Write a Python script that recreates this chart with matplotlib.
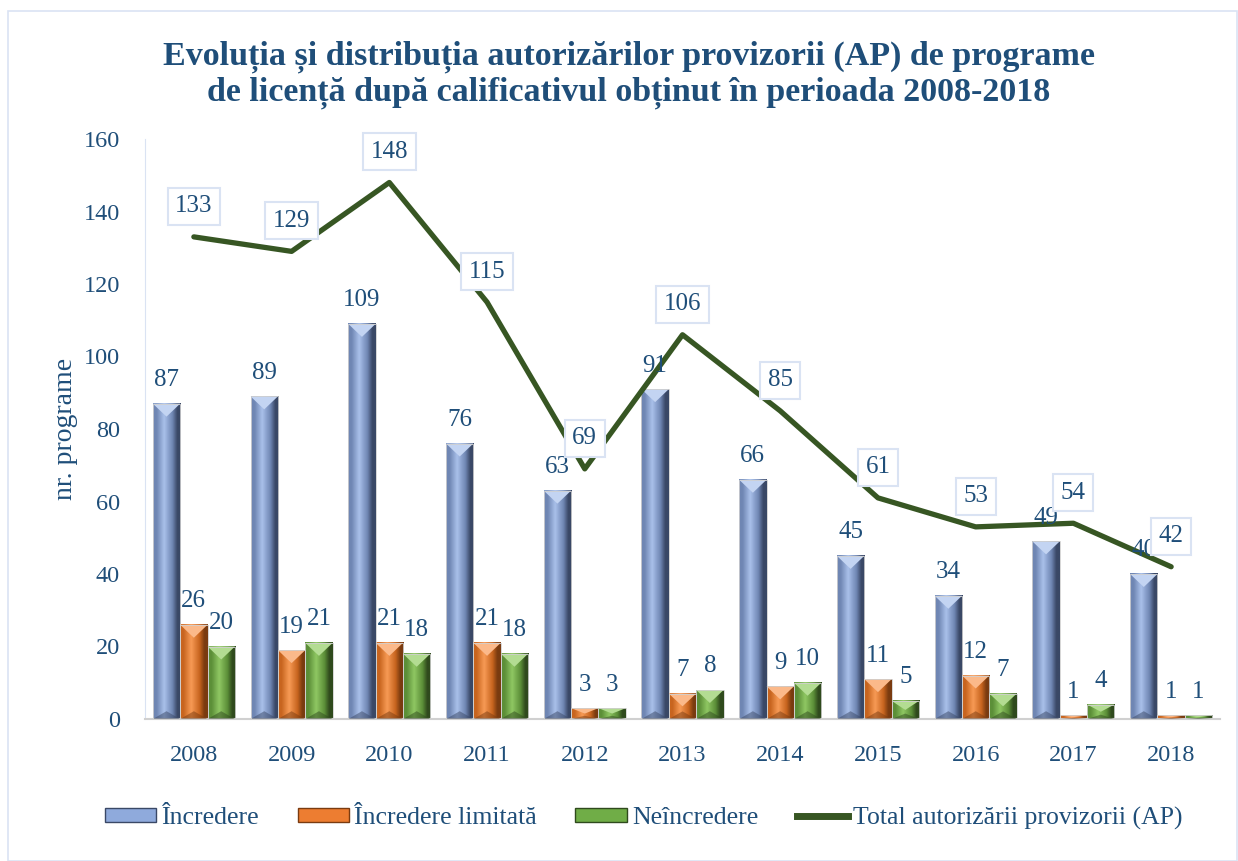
import numpy as np
import matplotlib.pyplot as plt
from matplotlib.patches import Polygon, Patch, Rectangle
from matplotlib.lines import Line2D
from matplotlib.colors import LinearSegmentedColormap

years = ['2008', '2009', '2010', '2011', '2012', '2013', '2014', '2015', '2016', '2017', '2018']
incredere = [87, 89, 109, 76, 63, 91, 66, 45, 34, 49, 40]
incredere_limitata = [26, 19, 21, 21, 3, 7, 9, 11, 12, 1, 1]
neincredere = [20, 21, 18, 18, 3, 8, 10, 5, 7, 4, 1]
total = [133, 129, 148, 115, 69, 106, 85, 61, 53, 54, 42]

series_names = ['Încredere', 'Încredere limitată', 'Neîncredere']
line_name = 'Total autorizării provizorii (AP)'

# (edge dark, mid, light, base) for the bevelled bars
palettes = [
    ('#3a4866', '#6f86b3', '#a9c0ea', '#8faadc'),
    ('#7a3b10', '#c8651f', '#f79a55', '#ed7d31'),
    ('#2f4a1d', '#5c8f38', '#8fc763', '#70ad47'),
]
tops = ['#c3d4f2', '#fbb98a', '#b3dc92']
text_color = '#1f4e79'
line_color = '#375623'
font = 'Liberation Serif'

plt.rcParams['font.family'] = [font, 'DejaVu Serif']

fig = plt.figure(figsize=(12.38, 8.61), dpi=100)
ax = fig.add_axes([145 / 1238, 1 - 719 / 861, (1220 - 145) / 1238, (719 - 139) / 861])

# thin border round the whole chart
fig.patches.append(Rectangle((8 / 1238, 0.0), 1 - 8 / 1238 - 0.001, 1 - 11 / 861,
                             transform=fig.transFigure, fill=False,
                             edgecolor='#dae3f3', linewidth=1.2))

x = np.arange(len(years))
w = 0.28
px_per_unit = 580 / 160


def bevel_bar(xc, h, pal, top):
    dark, mid, light, base = pal
    x0 = xc - w / 2
    cmap = LinearSegmentedColormap.from_list(
        'b', [(0, mid), (0.12, mid), (0.4, light), (0.7, mid), (0.88, dark), (1, dark)])
    grad = np.linspace(0, 1, 64).reshape(1, -1)
    ax.imshow(grad, cmap=cmap, extent=(x0, x0 + w, 0, h), aspect='auto',
              interpolation='bilinear', zorder=2)
    depth = min(13 / px_per_unit, h / 2)
    ax.add_patch(Polygon([(x0, h), (x0 + w, h), (xc, h - depth)],
                         closed=True, facecolor=top, edgecolor='none', zorder=3))
    ax.add_patch(Polygon([(x0, 0), (x0 + w, 0), (xc, min(depth, h / 2) * 0.6)],
                         closed=True, facecolor=dark, alpha=0.5, edgecolor='none', zorder=3))
    ax.add_patch(Rectangle((x0, 0), w, h, fill=False, edgecolor='#d0d0d0',
                           linewidth=0.6, zorder=3))


for i, vals in enumerate([incredere, incredere_limitata, neincredere]):
    for xi, v in zip(x, vals):
        xc = xi + (i - 1) * w
        bevel_bar(xc, v, palettes[i], tops[i])
        ax.annotate(str(v), (xc, v), xytext=(0, 17), textcoords='offset points',
                    ha='center', va='center', fontsize=18, color=text_color, zorder=6)

ax.plot(x, total, color=line_color, linewidth=3.8, zorder=4, solid_capstyle='round')
for xi, v in zip(x, total):
    ax.annotate(str(v), (xi, v), xytext=(0, 22), textcoords='offset points',
                ha='center', va='center', fontsize=18, color=text_color, zorder=7,
                bbox=dict(boxstyle='square,pad=0.3', facecolor='white',
                          edgecolor='#dae3f3', linewidth=1.5))

ax.set_xlim(-0.5, len(years) - 0.5)
ax.set_ylim(0, 160)
ax.set_yticks(range(0, 161, 20))
ax.set_xticks(x)
ax.set_xticklabels(years)
ax.tick_params(axis='both', length=0, labelsize=17.5, colors=text_color)
ax.tick_params(axis='x', pad=19)
ax.tick_params(axis='y', pad=18)
for s in ['top', 'right']:
    ax.spines[s].set_visible(False)
ax.spines['left'].set_color('#dae3f3')
ax.spines['bottom'].set_color('#d0d0d0')
ax.spines['bottom'].set_linewidth(1.5)
ax.set_ylabel('nr. programe', fontsize=20, color=text_color, labelpad=4)

fig.text(0.508, 0.913, 'Evoluția și distribuția autorizărilor provizorii (AP) de programe\n'
         'de licență după calificativul obținut în perioada 2008-2018',
         ha='center', va='center', fontsize=24.5, fontweight='bold', color=text_color,
         linespacing=1.15)

handles = [Patch(facecolor=p[3], edgecolor=p[0], linewidth=1) for p in palettes]
handles.append(Line2D([0], [0], color=line_color, linewidth=5))
fig.legend(handles, series_names + [line_name], loc='center', ncol=4,
           bbox_to_anchor=(0.52, 1 - 818 / 861), frameon=False, fontsize=18.5,
           labelcolor=text_color, handlelength=2.0, handleheight=0.5,
           handletextpad=0.2, columnspacing=1.5)

fig.savefig('out.png', dpi=100)
